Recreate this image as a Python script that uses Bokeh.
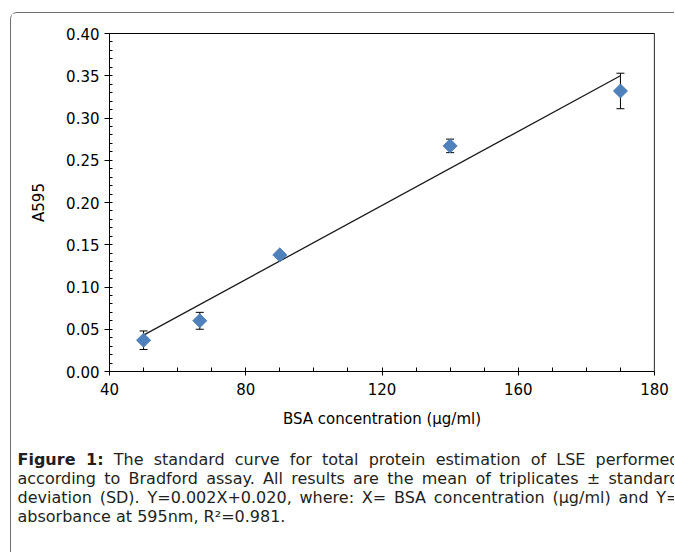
from bokeh.plotting import figure
from bokeh.layouts import column
from bokeh.models import (Range1d, FixedTicker, NumeralTickFormatter, ColumnDataSource,
                          Whisker, TeeHead, Span, Div)
from bokeh.embed import file_html
from bokeh.resources import INLINE

# ---------------- data ----------------
bsa_conc = [50, 66.5, 90, 140, 190]
a595_mean = [0.037, 0.060, 0.138, 0.267, 0.332]
a595_sd = [0.011, 0.010, 0.003, 0.008, 0.021]
trend_x = [50, 190]
trend_y = [0.043, 0.350]

x_ticks = [40, 80, 120, 160, 200]
x_tick_labels = ["40", "80", "120", "160", "180"]
x_minor = [50, 60, 70, 90, 100, 110, 130, 140, 150, 170, 180, 190]
y_ticks = [0.00, 0.05, 0.10, 0.15, 0.20, 0.25, 0.30, 0.35, 0.40]
y_minor = [0.01, 0.02, 0.03, 0.04, 0.06, 0.07, 0.08, 0.09, 0.11, 0.12, 0.13, 0.14,
           0.16, 0.17, 0.18, 0.19, 0.21, 0.22, 0.23, 0.24, 0.26, 0.27, 0.28, 0.29,
           0.31, 0.32, 0.33, 0.34, 0.36, 0.37, 0.38, 0.39]

x_title = "BSA concentration (\u03bcg/ml)"
y_title = "A595"
caption_bold = "Figure 1:"
caption_lines = [
    "The standard curve for total protein estimation of LSE performed",
    "according to Bradford assay. All results are the mean of triplicates \u00b1 standard",
    "deviation (SD). Y=0.002X+0.020, where: X= BSA concentration (\u00b5g/ml) and Y=",
    "absorbance at 595nm, R\u00b2=0.981.",
]

# ---------------- styling ----------------
FONT = "DejaVu Sans"
BOX = "1.5px solid #6e6e6e"

p = figure(width=663, height=427, output_backend="svg", toolbar_location=None,
           x_range=Range1d(40, 200), y_range=Range1d(0, 0.40),
           min_border_left=98, min_border_right=20, min_border_top=20,
           min_border_bottom=69, margin=0)
p.background_fill_color = "white"
p.border_fill_color = "white"
p.xgrid.visible = False
p.ygrid.visible = False
p.outline_line_color = "black"
p.outline_line_width = 1

xa = p.xaxis[0]
ya = p.yaxis[0]
xa.ticker = FixedTicker(ticks=x_ticks, minor_ticks=x_minor)
ovr = {}
for v, t in zip(x_ticks, x_tick_labels):
    ovr[v] = t
    ovr[str(v)] = t
xa.major_label_overrides = ovr
ya.ticker = FixedTicker(ticks=y_ticks, minor_ticks=y_minor)
ya.formatter = NumeralTickFormatter(format="0.00")

for ax in (xa, ya):
    ax.axis_line_color = "black"
    ax.axis_line_width = 1
    ax.major_tick_line_color = "black"
    ax.minor_tick_line_color = "black"
    ax.major_label_text_font = FONT
    ax.major_label_text_font_size = "15px"
    ax.major_label_text_color = "black"
    ax.axis_label_text_font = FONT
    ax.axis_label_text_font_size = "15px"
    ax.axis_label_text_font_style = "normal"
    ax.axis_label_text_color = "black"

xa.major_tick_in = 4
xa.major_tick_out = 4
xa.minor_tick_in = 4
xa.minor_tick_out = 0
xa.major_label_standoff = 7
xa.axis_label = x_title
xa.axis_label_standoff = 12

ya.major_tick_in = 3
ya.major_tick_out = 5
ya.minor_tick_in = 3
ya.minor_tick_out = 0
ya.major_label_standoff = 5
ya.axis_label = y_title
ya.axis_label_standoff = 15

# right frame edge is gray in the reference
p.add_layout(Span(location=200, dimension="height", line_color="#8a8a8a", line_width=1.5))

# error bars
lower = [m - s for m, s in zip(a595_mean, a595_sd)]
upper = [m + s for m, s in zip(a595_mean, a595_sd)]
src = ColumnDataSource(dict(x=bsa_conc, y=a595_mean, lower=lower, upper=upper))
wh = Whisker(source=src, base="x", lower="lower", upper="upper", level="underlay",
             line_color="black", line_width=1,
             upper_head=TeeHead(size=8, line_color="black", line_width=1),
             lower_head=TeeHead(size=8, line_color="black", line_width=1))
p.add_layout(wh)

# trendline
p.line(trend_x, trend_y, line_color="#1a1a1a", line_width=1.3)

# markers (diamonds)
p.scatter("x", "y", source=src, marker="square", angle=0.785398, size=10,
          fill_color="#4F81BD", line_color="#4777b0", line_width=0.8)

# ---------------- caption ----------------
just = ("display:block; width:662px; white-space:nowrap; text-align:justify; "
        "text-align-last:justify;")
left = "display:block; width:662px; white-space:nowrap; text-align:left;"
rows = []
for i, line in enumerate(caption_lines):
    txt = line
    if i == 0:
        txt = f"<b>{caption_bold}</b> " + line
    style = just if i < len(caption_lines) - 1 else left
    rows.append(f'<div style="{style}">{txt}</div>')
cap_html = (f'<div style="padding:10px 0 0 6.5px; font-family:\'DejaVu Sans\'; '
            f'font-size:16px; line-height:19px; color:#231f20;">'
            + "".join(rows) + "</div>")
cap = Div(text=cap_html, width=663, height=112, margin=0,
          styles={"overflow": "hidden"})

lay = column(p, cap, spacing=0, margin=(12, 0, 0, 10),
             styles={"border-top": BOX, "border-left": BOX,
                     "border-top-left-radius": "7px"})

open("out.html", "w").write(file_html(lay, INLINE))
